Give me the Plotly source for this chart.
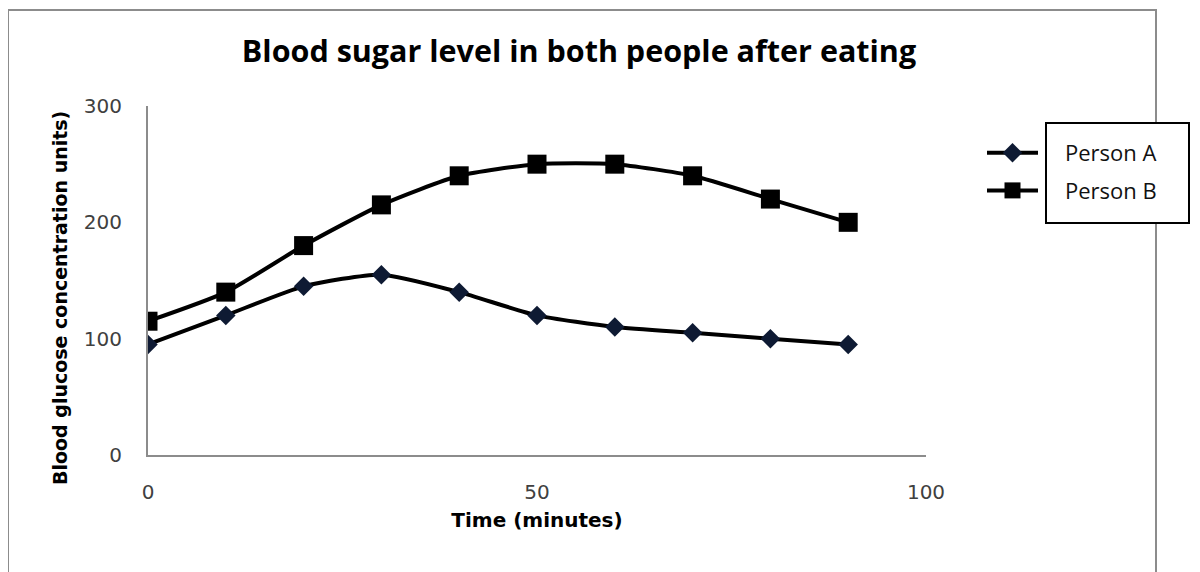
import plotly.graph_objects as go

time_min = [0, 10, 20, 30, 40, 50, 60, 70, 80, 90]
person_a = [95, 120, 145, 155, 140, 120, 110, 105, 100, 95]
person_b = [115, 140, 180, 215, 240, 250, 250, 240, 220, 200]
x_ticks = [0, 50, 100]
y_ticks = [0, 100, 200, 300]

FONT = "Open Sans, Liberation Sans, sans-serif"
FONT2 = "DejaVu Sans, sans-serif"

fig = go.Figure()
fig.add_trace(go.Scatter(
    x=time_min, y=person_a, name="\u2002\u2002Person A", mode="lines+markers",
    line=dict(color="black", width=4, shape="spline", smoothing=0.6),
    marker=dict(symbol="diamond", size=15, color="#0e1a33"),
    legendgroup="a",
))
fig.add_trace(go.Scatter(
    x=time_min, y=person_b, name="\u2002\u2002Person B", mode="lines+markers",
    line=dict(color="black", width=4, shape="spline", smoothing=0.6),
    marker=dict(symbol="square", size=19, color="black"),
    legendgroup="b",
))

OFF = 8  # page body margin
W, H = 1200 - OFF, 572 - OFF
L, R, T, B = 148 - OFF, 274, 106 - OFF, 117
pw, ph = W - L - R, H - T - B

def px(x):
    return (x - OFF - L) / pw

def py(y):
    return (H - B - (y - OFF)) / ph

fig.update_layout(
    width=W, height=H,
    margin=dict(l=L, r=R, t=T, b=B),
    paper_bgcolor="white", plot_bgcolor="white",
    font=dict(family=FONT, color="#404040"),
    title=dict(
        text="<b>Blood sugar level in both people after eating</b>",
        font=dict(size=30.5, color="black", family=FONT),
        x=px(579), xref="paper", xanchor="center",
        y=1 - (51 - OFF) / H, yanchor="middle",
    ),
    xaxis=dict(
        range=[0, 100], tickvals=x_ticks, showgrid=False, zeroline=False,
        showline=True, linecolor="#8c8c8c", linewidth=2, ticks="",
        tickfont=dict(size=20, color="#404040", family=FONT2),
        ticklabelstandoff=18,
        title=dict(text="<b>Time (minutes)</b>", font=dict(size=20, color="black", family=FONT2), standoff=10),
    ),
    yaxis=dict(
        range=[0, 300], tickvals=y_ticks, showgrid=False, zeroline=False,
        showline=True, linecolor="#8c8c8c", linewidth=2, ticks="",
        tickfont=dict(size=20, color="#404040", family=FONT2),
        ticklabelstandoff=20,
    ),
    showlegend=True,
    legend=dict(
        x=px(982), y=py(132), xanchor="left", yanchor="top",
        bgcolor="rgba(0,0,0,0)", borderwidth=0,
        font=dict(size=22, color="#111111", family=FONT),
        itemwidth=51, tracegroupgap=6,
    ),
    annotations=[dict(
        text="<b>Blood glucose concentration units)</b>",
        xref="paper", yref="paper", x=px(60), y=py(298),
        textangle=-90, showarrow=False, font=dict(size=19, color="black", family=FONT2),
        xanchor="center", yanchor="middle",
    )],
    shapes=[
        dict(type="rect", xref="paper", yref="paper",
             x0=px(8), x1=px(1156), y0=py(590), y1=py(10),
             line=dict(color="#8c8c8c", width=2), layer="below"),
        dict(type="rect", xref="paper", yref="paper",
             x0=px(1046), x1=px(1189), y0=py(223), y1=py(123),
             line=dict(color="black", width=2), fillcolor="white", layer="below"),
    ],
)

fig.write_html("out.html")
